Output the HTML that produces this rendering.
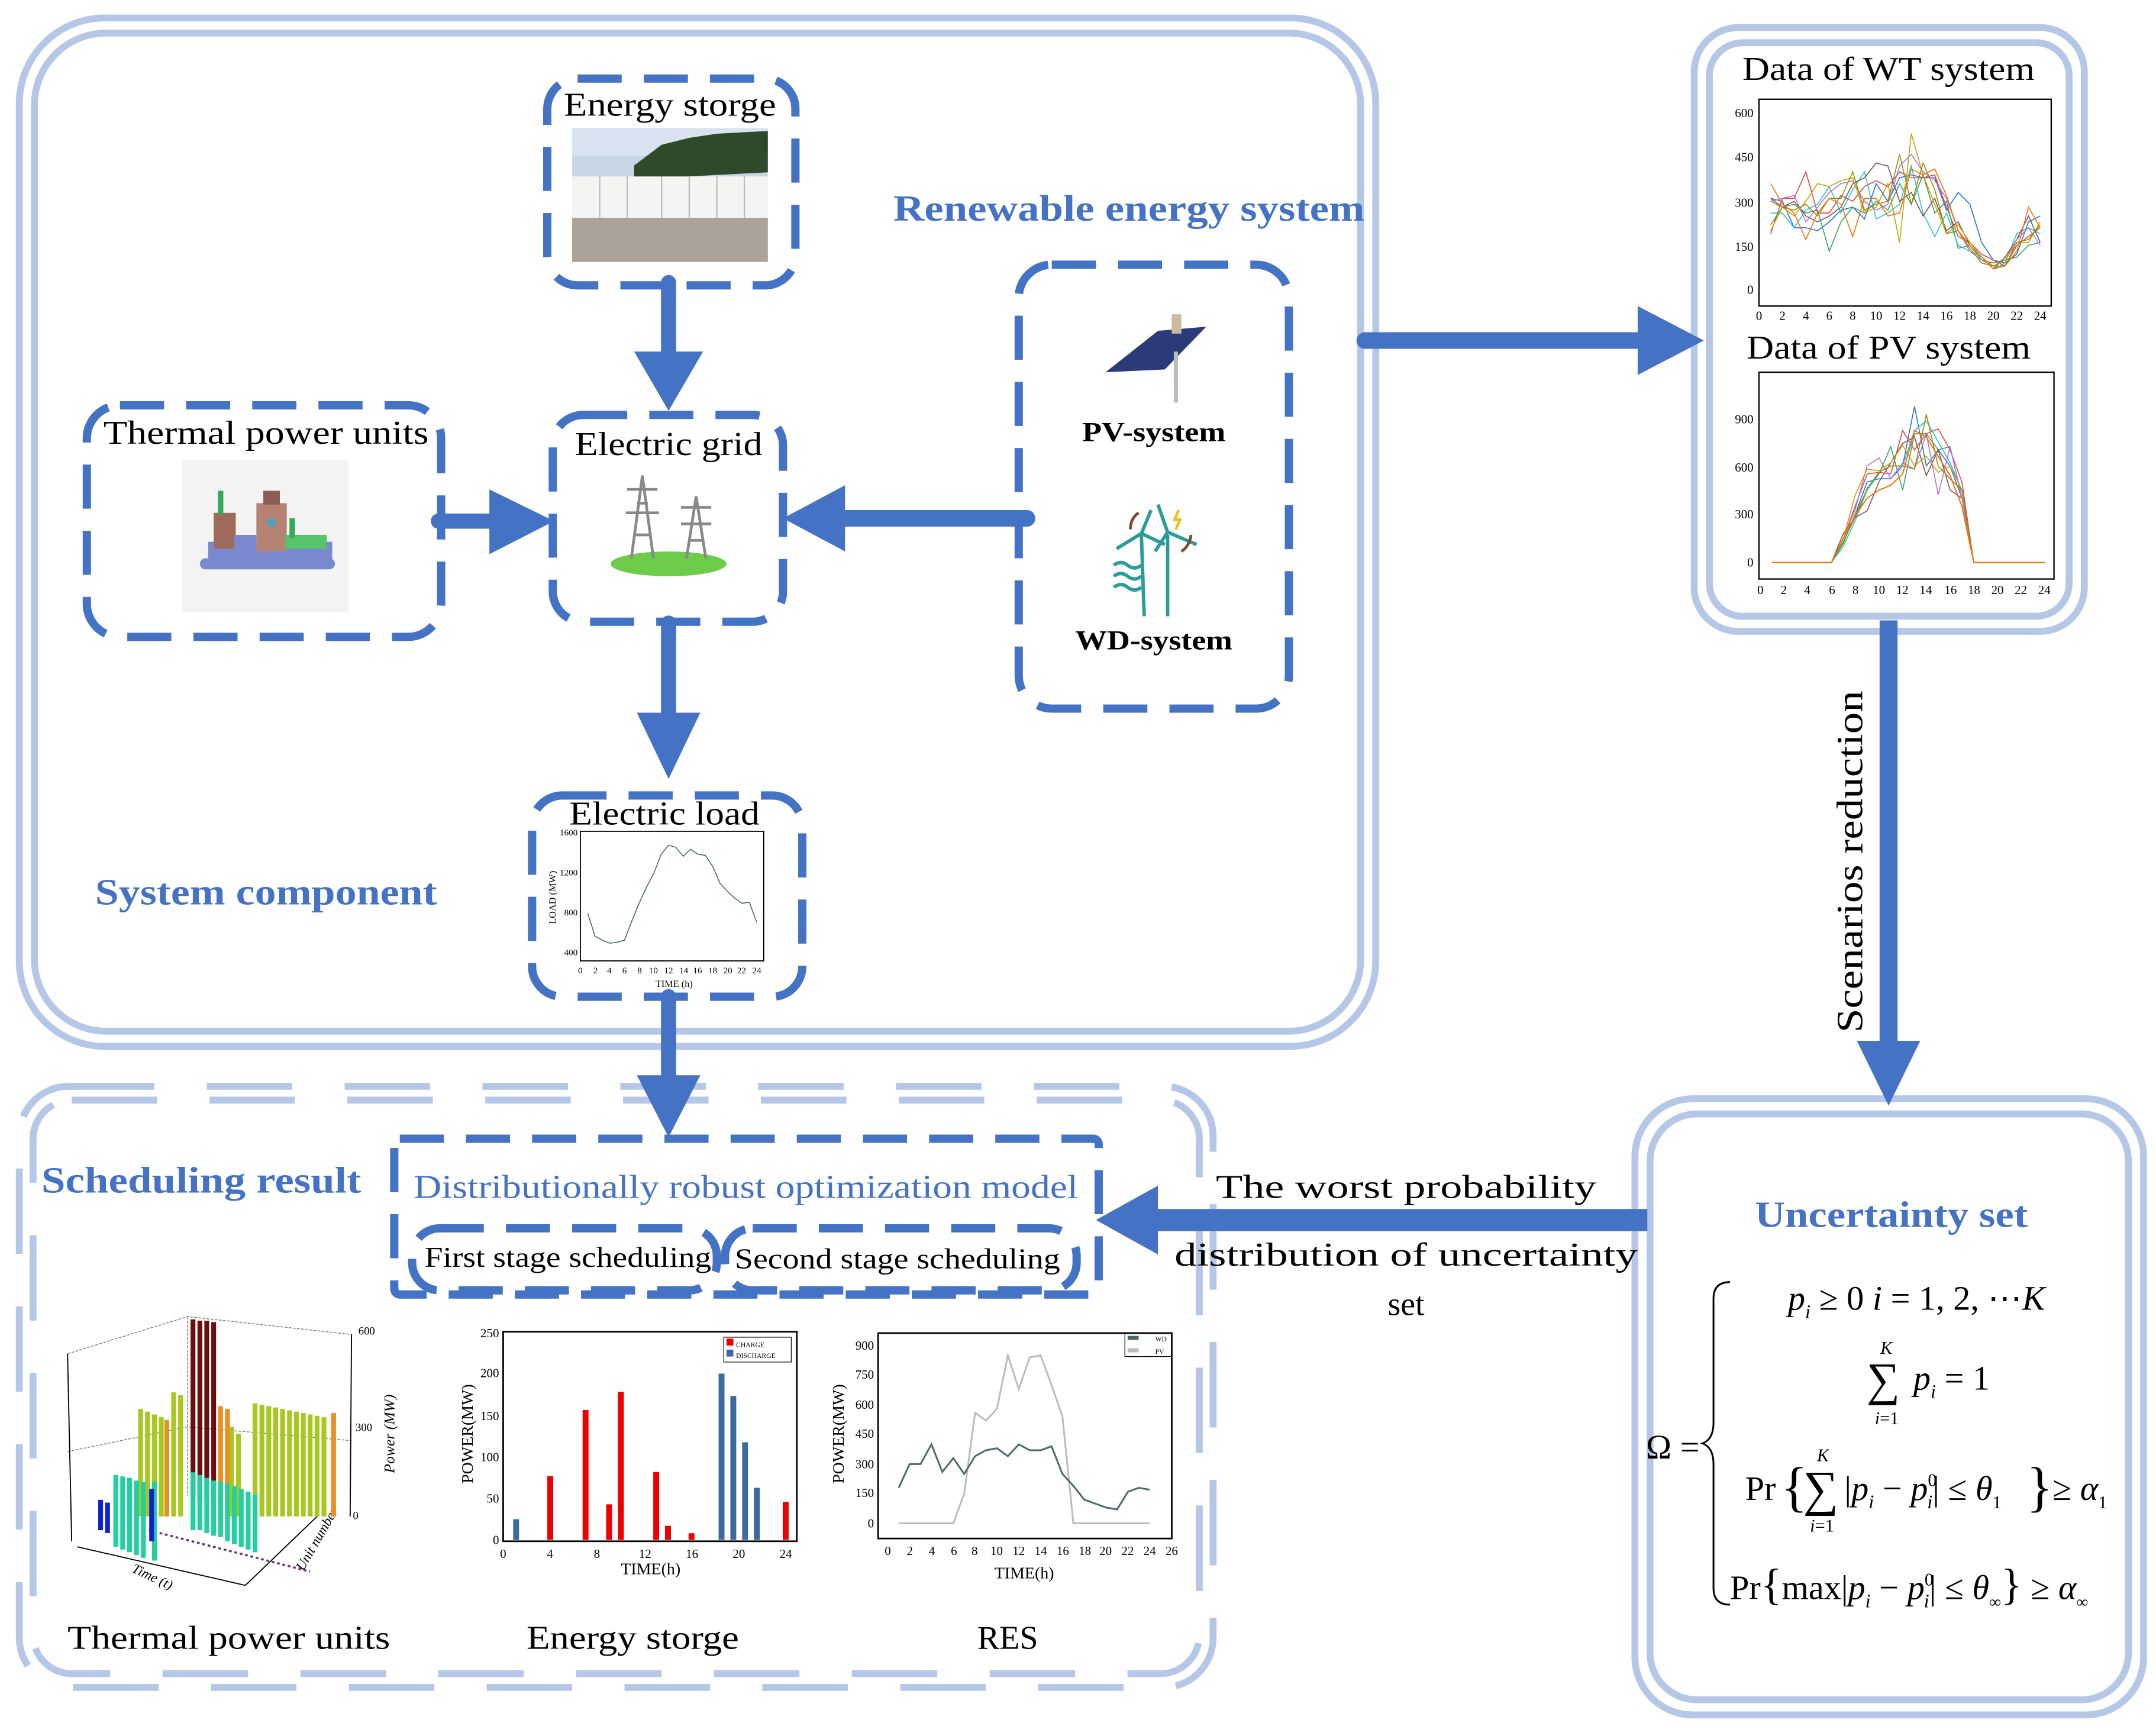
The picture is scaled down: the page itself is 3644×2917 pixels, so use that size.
<!DOCTYPE html>
<html><head><meta charset="utf-8"><style>
html,body{margin:0;padding:0;background:#fff}
svg{display:block}
text{font-family:"Liberation Serif",serif}
</style></head><body>
<svg width="3644" height="2917" viewBox="0 0 1564 1252" preserveAspectRatio="none" xmlns="http://www.w3.org/2000/svg">
<rect width="1564" height="1252" fill="#fff"/>
<g fill="none" stroke="#b4c7e7" stroke-width="5">
<rect x="14" y="13" width="984" height="746" rx="62"/>
<rect x="25" y="24" width="962" height="724" rx="52"/>
<rect x="1229" y="20" width="283" height="438" rx="32"/>
<rect x="1240" y="31" width="261" height="416" rx="24"/>
<rect x="1186" y="797" width="369" height="447" rx="42"/>
<rect x="1197" y="808" width="347" height="425" rx="34"/>
</g>
<g fill="none" stroke="#b4c7e7" stroke-width="5" stroke-dasharray="62 38">
<rect x="14" y="788" width="866" height="436" rx="36"/>
<rect x="24" y="798" width="846" height="416" rx="28"/>
</g>
<g fill="none" stroke="#4472c4" stroke-width="6" stroke-dasharray="32 16">
<rect x="397" y="57" width="180" height="150" rx="22"/>
<rect x="401" y="301" width="167" height="150" rx="22"/>
<rect x="63" y="294" width="257" height="168" rx="24"/>
<rect x="739" y="192" width="196" height="322" rx="24"/>
<rect x="386" y="577" width="196" height="146" rx="22"/>
<rect x="286" y="826" width="511" height="113" rx="4"/>
<rect x="299" y="891" width="221" height="45" rx="20"/>
<rect x="526" y="891" width="255" height="45" rx="20"/>
</g>
<g stroke="#4472c4" stroke-linecap="round" fill="none">
<line x1="485" y1="205" x2="485" y2="260" stroke-width="11"/>
<line x1="318" y1="378" x2="360" y2="378" stroke-width="11"/>
<line x1="745" y1="376" x2="610" y2="376" stroke-width="12"/>
<line x1="485" y1="452" x2="485" y2="520" stroke-width="11"/>
<line x1="485" y1="723" x2="485" y2="782" stroke-width="11"/>
<line x1="990" y1="247" x2="1192" y2="247" stroke-width="12"/>
<line x1="1370" y1="450" x2="1370" y2="760" stroke-width="13" stroke-linecap="butt"/>
<line x1="1195" y1="885" x2="836" y2="885" stroke-width="16" stroke-linecap="butt"/>
</g>
<g fill="#4472c4">
<polygon points="460,255 510,255 485,298"/>
<polygon points="355,355 355,402 402,378"/>
<polygon points="613,352 613,400 568,376"/>
<polygon points="462,517 508,517 485,565"/>
<polygon points="462,780 508,780 485,825"/>
<polygon points="1188,222 1188,272 1236,247"/>
<polygon points="1347,755 1393,755 1370,802"/>
<polygon points="840,860 840,910 795,885"/>
</g>
<rect x="415" y="93" width="142" height="97" fill="#c9d6e6"/>
<rect x="415" y="93" width="142" height="20" fill="#d8e3ef"/>
<path d="M460 120 L480 105 L500 100 L520 97 L557 95 L557 125 L460 130Z" fill="#2f4a2a"/>
<rect x="415" y="128" width="142" height="30" fill="#f4f4f2"/>
<g stroke="#bdbdbd" stroke-width="1"><line x1="435" y1="128" x2="435" y2="158"/><line x1="455" y1="128" x2="455" y2="158"/><line x1="480" y1="128" x2="480" y2="158"/><line x1="500" y1="128" x2="500" y2="158"/><line x1="520" y1="128" x2="520" y2="158"/><line x1="540" y1="128" x2="540" y2="158"/></g>
<rect x="415" y="158" width="142" height="32" fill="#a9a39a"/>
<rect x="132" y="334" width="121" height="110" fill="#f3f3f3"/>
<rect x="151" y="393" width="90" height="15" fill="#7a88d0"/>
<rect x="145" y="405" width="98" height="8" rx="4" fill="#7a88d0"/>
<rect x="155" y="372" width="16" height="26" fill="#9e6b5a"/>
<rect x="170" y="388" width="16" height="12" fill="#7a88d0"/>
<rect x="186" y="365" width="22" height="35" fill="#b48373"/>
<rect x="191" y="356" width="12" height="10" fill="#8a5e52"/>
<rect x="207" y="388" width="30" height="10" fill="#55c46a"/>
<rect x="158" y="356" width="4" height="17" fill="#33aa55"/>
<rect x="210" y="376" width="4" height="14" fill="#33aa55"/>
<circle cx="197" cy="379" r="3" fill="#4aa0c0"/>
<ellipse cx="485" cy="409" rx="42" ry="9" fill="#6dcc4a"/>
<g stroke="#888" stroke-width="2" fill="none">
<path d="M458 405 L466 345 L474 405 M462 365 L470 365 M455 355 L477 355 M454 372 L478 372 M460 388 L472 388"/>
<path d="M498 405 L505 360 L512 405 M494 368 L516 368 M494 380 L516 380 M500 392 L510 392"/>
</g>
<polygon points="802,270 840,240 875,237 845,268" fill="#2a3a7a"/>
<line x1="853" y1="255" x2="853" y2="292" stroke="#bbb" stroke-width="3"/>
<rect x="850" y="228" width="7" height="14" fill="#ccb9a0"/>
<g stroke="#2a9d9a" stroke-width="2.5" fill="none">
<line x1="828" y1="388" x2="830" y2="447"/><line x1="847" y1="388" x2="847" y2="447"/>
<path d="M828 387 L810 398 M828 387 L835 370 M828 387 L845 395"/>
<path d="M847 386 L840 366 M847 386 L868 395 M847 386 L838 400"/>
<path d="M808 410 q5 -4 10 0 q5 4 10 0 M808 418 q5 -4 10 0 q5 4 10 0 M808 426 q5 -4 10 0 q5 4 10 0"/>
</g>
<path d="M826 372 q-6 4 -6 12" stroke="#7a4a2a" stroke-width="2" fill="none"/>
<path d="M857 400 q6 -4 7 -12" stroke="#7a4a2a" stroke-width="2" fill="none"/>
<path d="M855 370 l-3 7 l4 0 l-3 7" stroke="#f0c020" stroke-width="2" fill="none"/>
<g font-size="24" fill="#000" text-anchor="middle">
<text x="486" y="84" textLength="154" lengthAdjust="spacingAndGlyphs">Energy storge</text>
<text x="485" y="330" textLength="136" lengthAdjust="spacingAndGlyphs">Electric grid</text>
<text x="193" y="322" textLength="236" lengthAdjust="spacingAndGlyphs">Thermal power units</text>
<text x="482" y="598" textLength="138" lengthAdjust="spacingAndGlyphs">Electric load</text>
<text x="1370" y="58" textLength="212" lengthAdjust="spacingAndGlyphs">Data of WT system</text>
<text x="1370" y="260" textLength="206" lengthAdjust="spacingAndGlyphs">Data of PV system</text>
<text x="1020" y="869" textLength="276" lengthAdjust="spacingAndGlyphs">The worst probability</text>
<text x="1020" y="918" textLength="336" lengthAdjust="spacingAndGlyphs">distribution of uncertainty</text>
<text x="1020" y="954">set</text>
<text x="166" y="1196" textLength="234" lengthAdjust="spacingAndGlyphs">Thermal power units</text>
<text x="459" y="1196" textLength="154" lengthAdjust="spacingAndGlyphs">Energy storge</text>
<text x="731" y="1196">RES</text>
</g>
<g font-size="20" text-anchor="middle" font-weight="bold">
<text x="837" y="320" textLength="104" lengthAdjust="spacingAndGlyphs">PV-system</text>
<text x="837" y="471" textLength="114" lengthAdjust="spacingAndGlyphs">WD-system</text>
</g>
<g font-size="21" text-anchor="middle">
<text x="412" y="919" textLength="208" lengthAdjust="spacingAndGlyphs">First stage scheduling</text>
<text x="651" y="920" textLength="236" lengthAdjust="spacingAndGlyphs">Second stage scheduling</text>
</g>
<text x="541" y="869" font-size="24" fill="#4472c4" text-anchor="middle" textLength="482" lengthAdjust="spacingAndGlyphs">Distributionally robust optimization model</text>
<g font-size="27" fill="#4472c4" font-weight="bold" text-anchor="middle">
<text x="819" y="160" textLength="342" lengthAdjust="spacingAndGlyphs">Renewable energy system</text>
<text x="193" y="656" textLength="248" lengthAdjust="spacingAndGlyphs">System component</text>
<text x="146" y="865" textLength="232" lengthAdjust="spacingAndGlyphs">Scheduling result</text>
<text x="1372" y="890" textLength="198" lengthAdjust="spacingAndGlyphs">Uncertainty set</text>
</g>
<text transform="translate(1351,625) rotate(-90)" font-size="27" text-anchor="middle" textLength="248" lengthAdjust="spacingAndGlyphs">Scenarios reduction</text>
<g font-size="25" font-family="Liberation Serif,serif">
<text x="1194" y="1058">Ω =</text>
<path d="M1255 930 q-12 0 -12 12 v90 q0 12 -8 15 q8 3 8 15 v90 q0 12 12 12" fill="none" stroke="#000" stroke-width="1.3"/>
<text x="1297" y="950"><tspan font-style="italic">p</tspan><tspan font-size="14" font-style="italic" dy="6">i</tspan><tspan dy="-6"> ≥ 0    </tspan><tspan font-style="italic">i</tspan> = 1, 2, ⋯<tspan font-style="italic">K</tspan></text>
<text x="1364" y="982" font-size="13" font-style="italic">K</text>
<text x="1354" y="1012" font-size="34">∑</text>
<text x="1360" y="1033" font-size="13"><tspan font-style="italic">i</tspan>=1</text>
<text x="1388" y="1008"><tspan font-style="italic">p</tspan><tspan font-size="14" font-style="italic" dy="6">i</tspan><tspan dy="-6"> = 1</tspan></text>
<text x="1266" y="1088">Pr</text>
<text x="1292" y="1092" font-size="40">{</text>
<text x="1318" y="1060" font-size="13" font-style="italic">K</text>
<text x="1308" y="1092" font-size="36">∑</text>
<text x="1313" y="1111" font-size="13"><tspan font-style="italic">i</tspan>=1</text>
<text x="1338" y="1088">|<tspan font-style="italic">p</tspan><tspan font-size="14" font-style="italic" dy="6">i</tspan><tspan dy="-6"> − </tspan><tspan font-style="italic">p</tspan><tspan font-size="13" dy="-10">0</tspan><tspan font-size="14" font-style="italic" dx="-7" dy="16">i</tspan><tspan dy="-6">| ≤ </tspan><tspan font-style="italic">θ</tspan><tspan font-size="13" dy="6">1</tspan></text>
<text x="1470" y="1092" font-size="40">}</text>
<text x="1489" y="1088">≥ <tspan font-style="italic">α</tspan><tspan font-size="13" dy="6">1</tspan></text>
<text x="1255" y="1160">Pr<tspan font-size="32">{</tspan>max|<tspan font-style="italic">p</tspan><tspan font-size="14" font-style="italic" dy="6">i</tspan><tspan dy="-6"> − </tspan><tspan font-style="italic">p</tspan><tspan font-size="13" dy="-10">0</tspan><tspan font-size="14" font-style="italic" dx="-7" dy="16">i</tspan><tspan dy="-6">| ≤ </tspan><tspan font-style="italic">θ</tspan><tspan font-size="12" dy="6">∞</tspan><tspan font-size="32" dy="-6">}</tspan> ≥ <tspan font-style="italic">α</tspan><tspan font-size="12" dy="6">∞</tspan></text>
</g>
<!-- WT chart -->
<rect x="1276" y="72" width="212" height="150" fill="none" stroke="#000" stroke-width="1"/>
<g font-size="9" text-anchor="end"><text x="1272" y="85">600</text><text x="1272" y="117">450</text><text x="1272" y="150">300</text><text x="1272" y="182">150</text><text x="1272" y="213">0</text></g>
<g font-size="9" text-anchor="middle"><text x="1276" y="232">0</text><text x="1293" y="232">2</text><text x="1310" y="232">4</text><text x="1327" y="232">6</text><text x="1344" y="232">8</text><text x="1361" y="232">10</text><text x="1378" y="232">12</text><text x="1395" y="232">14</text><text x="1412" y="232">16</text><text x="1429" y="232">18</text><text x="1446" y="232">20</text><text x="1463" y="232">22</text><text x="1480" y="232">24</text></g>
<g transform="translate(1276,210) scale(8.5,-0.2133)" fill="none" stroke-width="1.6">
<polyline vector-effect="non-scaling-stroke" stroke="#1f6fe0" points="1,310 2,300 3,210 4,210 5,200 6,230 7,270 8,280 9,240 10,360 11,300 12,380 13,390 14,380 15,380 16,270 17,330 18,290 19,160 20,100 21,90 22,120 23,230 24,250"/>
<polyline vector-effect="non-scaling-stroke" stroke="#e84040" points="1,190 2,310 3,310 4,400 5,260 6,260 7,320 8,300 9,350 10,370 11,350 12,400 13,380 14,380 15,390 16,280 17,180 18,160 19,120 20,100 21,80 22,150 23,180 24,210"/>
<polyline vector-effect="non-scaling-stroke" stroke="#3aa060" points="1,220 2,280 3,290 4,260 5,270 6,130 7,230 8,280 9,260 10,300 11,270 12,360 13,290 14,390 15,260 16,300 17,140 18,150 19,100 20,90 21,100 22,110 23,150 24,160"/>
<polyline vector-effect="non-scaling-stroke" stroke="#1ec8c8" points="1,260 2,260 3,210 4,270 5,290 6,350 7,260 8,340 9,400 10,240 11,260 12,290 13,420 14,260 15,180 16,260 17,150 18,130 19,110 20,70 21,90 22,190 23,210 24,190"/>
<polyline vector-effect="non-scaling-stroke" stroke="#7a5050" points="1,310 2,280 3,300 4,250 5,230 6,250 7,280 8,360 9,380 10,430 11,420 12,300 13,330 14,250 15,310 16,200 17,230 18,150 19,110 20,70 21,110 22,170 23,250 24,160"/>
<polyline vector-effect="non-scaling-stroke" stroke="#b070e0" points="1,300 2,310 3,320 4,230 5,280 6,330 7,360 8,370 9,300 10,270 11,290 12,420 13,460 14,400 15,370 16,310 17,200 18,130 19,100 20,80 21,100 22,170 23,210 24,150"/>
<polyline vector-effect="non-scaling-stroke" stroke="#c8a000" points="1,200 2,280 3,250 4,300 5,360 6,350 7,370 8,380 9,260 10,280 11,360 12,160 13,530 14,390 15,290 16,190 17,220 18,160 19,110 20,80 21,100 22,160 23,160 24,230"/>
<polyline vector-effect="non-scaling-stroke" stroke="#909000" points="1,300 2,280 3,270 4,290 5,250 6,310 7,310 8,400 9,270 10,290 11,300 12,460 13,290 14,430 15,340 16,190 17,200 18,140 19,90 20,80 21,80 22,160 23,170 24,220"/>
<polyline vector-effect="non-scaling-stroke" stroke="#ff6a00" points="1,360 2,290 3,260 4,170 5,260 6,310 7,290 8,180 9,310 10,310 11,250 12,260 13,410 14,390 15,410 16,320 17,200 18,150 19,110 20,70 21,80 22,130 23,280 24,210"/>
</g>
<!-- PV chart -->
<rect x="1276" y="270" width="214" height="150" fill="none" stroke="#000" stroke-width="1"/>
<g font-size="9" text-anchor="end"><text x="1272" y="307">900</text><text x="1272" y="342">600</text><text x="1272" y="376">300</text><text x="1272" y="411">0</text></g>
<g font-size="9" text-anchor="middle"><text x="1277" y="431">0</text><text x="1294" y="431">2</text><text x="1311" y="431">4</text><text x="1329" y="431">6</text><text x="1346" y="431">8</text><text x="1363" y="431">10</text><text x="1380" y="431">12</text><text x="1397" y="431">14</text><text x="1415" y="431">16</text><text x="1432" y="431">18</text><text x="1449" y="431">20</text><text x="1466" y="431">22</text><text x="1483" y="431">24</text></g>
<g transform="translate(1277,408) scale(8.6,-0.1167)" fill="none" stroke-width="1.6">
<polyline vector-effect="non-scaling-stroke" stroke="#1f6fe0" points="1,0 6,0 7,120 8,300 9,500 10,520 11,520 12,600 13,970 14,600 15,700 16,600 17,400 18,0 24,0"/>
<polyline vector-effect="non-scaling-stroke" stroke="#e84040" points="1,0 6,0 7,150 8,350 9,550 10,560 11,550 12,820 13,700 14,800 15,830 16,700 17,500 18,0 24,0"/>
<polyline vector-effect="non-scaling-stroke" stroke="#3aa060" points="1,0 6,0 7,120 8,300 9,450 10,550 11,720 12,450 13,800 14,800 15,700 16,720 17,400 18,0 24,0"/>
<polyline vector-effect="non-scaling-stroke" stroke="#1ec8c8" points="1,0 6,0 7,100 8,260 9,450 10,560 11,600 12,600 13,820 14,880 15,750 16,620 17,450 18,0 24,0"/>
<polyline vector-effect="non-scaling-stroke" stroke="#7a5050" points="1,0 6,0 7,180 8,280 9,320 10,500 11,620 12,740 13,780 14,540 15,700 16,450 17,400 18,0 24,0"/>
<polyline vector-effect="non-scaling-stroke" stroke="#b070e0" points="1,0 6,0 7,150 8,330 9,600 10,650 11,520 12,620 13,580 14,800 15,420 16,720 17,400 18,0 24,0"/>
<polyline vector-effect="non-scaling-stroke" stroke="#c8a000" points="1,0 6,0 7,150 8,420 9,580 10,570 11,620 12,730 13,600 14,660 15,560 16,600 17,450 18,0 24,0"/>
<polyline vector-effect="non-scaling-stroke" stroke="#909000" points="1,0 6,0 7,130 8,280 9,460 10,560 11,600 12,600 13,580 14,920 15,600 16,520 17,450 18,0 24,0"/>
<polyline vector-effect="non-scaling-stroke" stroke="#ff6a00" stroke-width="2" points="1,0 6,0 7,150 8,290 9,400 10,450 11,480 12,550 13,820 14,780 15,660 16,540 17,350 18,0 24,0"/>
</g>
<!-- Load chart -->
<rect x="421" y="603" width="133" height="94" fill="none" stroke="#000" stroke-width="0.8"/>
<g font-size="6.5" text-anchor="end"><text x="419" y="606">1600</text><text x="419" y="635">1200</text><text x="419" y="664">800</text><text x="419" y="693">400</text></g>
<g font-size="6.5" text-anchor="middle"><text x="421" y="706">0</text><text x="432" y="706">2</text><text x="442" y="706">4</text><text x="453" y="706">6</text><text x="464" y="706">8</text><text x="474" y="706">10</text><text x="485" y="706">12</text><text x="496" y="706">14</text><text x="506" y="706">16</text><text x="517" y="706">18</text><text x="528" y="706">20</text><text x="538" y="706">22</text><text x="549" y="706">24</text></g>
<text x="489" y="716" font-size="7" text-anchor="middle">TIME (h)</text>
<text transform="translate(403,651) rotate(-90)" font-size="7" text-anchor="middle">LOAD (MW)</text>
<g transform="translate(421,719) scale(5.33,-0.0725)"><polyline vector-effect="non-scaling-stroke" fill="none" stroke="#3f6060" stroke-width="1.5" points="1,780 2,550 3,510 4,480 5,490 6,510 7,700 8,880 9,1040 10,1180 11,1370 12,1460 13,1440 14,1350 15,1420 16,1370 17,1360 18,1250 19,1080 20,1000 21,930 22,880 23,890 24,690"/></g>
<!-- Energy storage chart -->
<rect x="365" y="966" width="213" height="152" fill="none" stroke="#000" stroke-width="1.2"/>
<g font-size="9" text-anchor="end"><text x="362" y="970">250</text><text x="362" y="999">200</text><text x="362" y="1030">150</text><text x="362" y="1060">100</text><text x="362" y="1090">50</text><text x="362" y="1120">0</text></g>
<g font-size="9" text-anchor="middle"><text x="365" y="1130">0</text><text x="399" y="1130">4</text><text x="433" y="1130">8</text><text x="468" y="1130">12</text><text x="502" y="1130">16</text><text x="536" y="1130">20</text><text x="570" y="1130">24</text></g>
<text x="472" y="1142" font-size="12" text-anchor="middle">TIME(h)</text>
<text transform="translate(343,1040) rotate(-90)" font-size="12" text-anchor="middle">POWER(MW)</text>
<rect x="525" y="970" width="49" height="18" fill="none" stroke="#000" stroke-width="0.5"/>
<rect x="527" y="971" width="5" height="5" fill="#e00"/><rect x="527" y="979" width="5" height="5" fill="#3a6aa0"/>
<text x="534" y="977" font-size="5">CHARGE</text><text x="534" y="985" font-size="5">DISCHARGE</text>
<g transform="translate(365,1117) scale(8.54,-0.6)">
<g fill="#3a6aa0"><rect x="0.85" y="0" width="0.5" height="25"/><rect x="18.3" y="0" width="0.5" height="201"/><rect x="19.3" y="0" width="0.5" height="174"/><rect x="20.3" y="0" width="0.5" height="118"/><rect x="21.3" y="0" width="0.5" height="63"/></g>
<g fill="#e00"><rect x="3.75" y="0" width="0.5" height="77"/><rect x="6.75" y="0" width="0.5" height="157"/><rect x="8.75" y="0" width="0.5" height="43"/><rect x="9.75" y="0" width="0.5" height="179"/><rect x="12.75" y="0" width="0.5" height="82"/><rect x="13.75" y="0" width="0.5" height="17"/><rect x="15.75" y="0" width="0.5" height="8"/><rect x="23.75" y="0" width="0.5" height="46"/></g>
</g>
<!-- RES chart -->
<rect x="637" y="967" width="213" height="149" fill="none" stroke="#000" stroke-width="1.2"/>
<g font-size="9" text-anchor="end"><text x="634" y="979">900</text><text x="634" y="1000">750</text><text x="634" y="1022">600</text><text x="634" y="1043">450</text><text x="634" y="1065">300</text><text x="634" y="1086">150</text><text x="634" y="1108">0</text></g>
<g font-size="9" text-anchor="middle"><text x="644" y="1128">0</text><text x="660" y="1128">2</text><text x="676" y="1128">4</text><text x="692" y="1128">6</text><text x="707" y="1128">8</text><text x="723" y="1128">10</text><text x="739" y="1128">12</text><text x="755" y="1128">14</text><text x="771" y="1128">16</text><text x="787" y="1128">18</text><text x="802" y="1128">20</text><text x="818" y="1128">22</text><text x="834" y="1128">24</text><text x="850" y="1128">26</text></g>
<text x="743" y="1145" font-size="12" text-anchor="middle">TIME(h)</text>
<text transform="translate(612,1040) rotate(-90)" font-size="12" text-anchor="middle">POWER(MW)</text>
<rect x="816" y="967" width="34" height="17" fill="none" stroke="#000" stroke-width="0.5"/>
<rect x="818" y="969" width="8" height="3" fill="#4a6a6a"/><rect x="818" y="978" width="8" height="3" fill="#bbb"/>
<text x="838" y="973" font-size="5">WD</text><text x="838" y="982" font-size="5">PV</text>
<g transform="translate(644,1105) scale(7.92,-0.1433)" fill="none">
<polyline vector-effect="non-scaling-stroke" stroke="#bbb" stroke-width="3" points="1,0 6,0 7,150 8,560 9,520 10,580 11,850 12,680 13,840 14,850 15,700 16,540 17,0 24,0"/>
<polyline vector-effect="non-scaling-stroke" stroke="#4a6a6a" stroke-width="3" points="1,180 2,300 3,300 4,400 5,260 6,330 7,250 8,340 9,370 10,380 11,340 12,400 13,370 14,370 15,390 16,250 17,190 18,120 19,100 20,80 21,70 22,160 23,180 24,170"/>
</g>
<!-- Thermal 3D chart -->
<g fill="none" stroke="#777" stroke-width="0.6" stroke-dasharray="2 1">
<polyline points="49,982 136,955 255,968"/>
<line x1="136" y1="955" x2="136" y2="1085"/>
<polyline points="49,1053 136,1035 255,1045"/>
</g>
<g fill="none" stroke="#000" stroke-width="0.8">
<line x1="49" y1="982" x2="52" y2="1118"/>
<line x1="255" y1="968" x2="254" y2="1100"/>
<line x1="56" y1="1122" x2="178" y2="1150"/>
<line x1="178" y1="1150" x2="230" y2="1100"/>
</g>
<g font-size="8"><text x="260" y="968">600</text><text x="258" y="1038">300</text><text x="256" y="1102">0</text></g>
<text transform="translate(286,1040) rotate(-90)" font-size="11" font-style="italic" text-anchor="middle">Power (MW)</text>
<text transform="translate(95,1140) rotate(25)" font-size="10" font-style="italic">Time (t)</text>
<text transform="translate(220,1140) rotate(-60)" font-size="10" font-style="italic">Unit number</text>
<line x1="108" y1="1110" x2="225" y2="1140" stroke="#663366" stroke-width="1.5" stroke-dasharray="2 2"/>
<g stroke-width="3.5">
<g stroke="#6b0f0f"><line x1="140" y1="957" x2="140" y2="1085"/><line x1="145" y1="958" x2="145" y2="1088"/><line x1="150" y1="958" x2="150" y2="1088"/><line x1="155" y1="959" x2="155" y2="1090"/></g>
<g stroke="#a8c820"><line x1="102" y1="1022" x2="102" y2="1100"/><line x1="107" y1="1024" x2="107" y2="1100"/><line x1="112" y1="1026" x2="112" y2="1100"/><line x1="117" y1="1028" x2="117" y2="1100"/><line x1="126" y1="1010" x2="126" y2="1100"/><line x1="131" y1="1012" x2="131" y2="1100"/><line x1="185" y1="1018" x2="185" y2="1100"/><line x1="190" y1="1019" x2="190" y2="1100"/><line x1="195" y1="1020" x2="195" y2="1100"/><line x1="200" y1="1021" x2="200" y2="1100"/><line x1="205" y1="1022" x2="205" y2="1100"/><line x1="210" y1="1023" x2="210" y2="1100"/><line x1="215" y1="1024" x2="215" y2="1100"/><line x1="220" y1="1025" x2="220" y2="1100"/><line x1="225" y1="1026" x2="225" y2="1100"/><line x1="230" y1="1027" x2="230" y2="1100"/><line x1="235" y1="1028" x2="235" y2="1100"/><line x1="168" y1="1035" x2="168" y2="1100"/><line x1="173" y1="1040" x2="173" y2="1100"/></g>
<g stroke="#e89020"><line x1="121" y1="1030" x2="121" y2="1100"/><line x1="160" y1="1020" x2="160" y2="1100"/><line x1="165" y1="1022" x2="165" y2="1100"/><line x1="242" y1="1025" x2="242" y2="1100"/></g>
<g stroke="#20d0a0"><line x1="84" y1="1070" x2="84" y2="1122"/><line x1="89" y1="1071" x2="89" y2="1124"/><line x1="94" y1="1072" x2="94" y2="1126"/><line x1="99" y1="1074" x2="99" y2="1128"/><line x1="104" y1="1075" x2="104" y2="1130"/><line x1="112" y1="1075" x2="112" y2="1132"/><line x1="140" y1="1068" x2="140" y2="1110"/><line x1="145" y1="1070" x2="145" y2="1110"/><line x1="150" y1="1072" x2="150" y2="1112"/><line x1="155" y1="1074" x2="155" y2="1114"/><line x1="160" y1="1075" x2="160" y2="1115"/><line x1="165" y1="1076" x2="165" y2="1118"/><line x1="170" y1="1078" x2="170" y2="1120"/><line x1="175" y1="1080" x2="175" y2="1122"/><line x1="180" y1="1082" x2="180" y2="1124"/><line x1="185" y1="1084" x2="185" y2="1126"/></g>
<g stroke="#1020d0"><line x1="73" y1="1088" x2="73" y2="1110"/><line x1="78" y1="1090" x2="78" y2="1112"/><line x1="110" y1="1080" x2="110" y2="1118"/></g>
</g>
</svg>
</body></html>
